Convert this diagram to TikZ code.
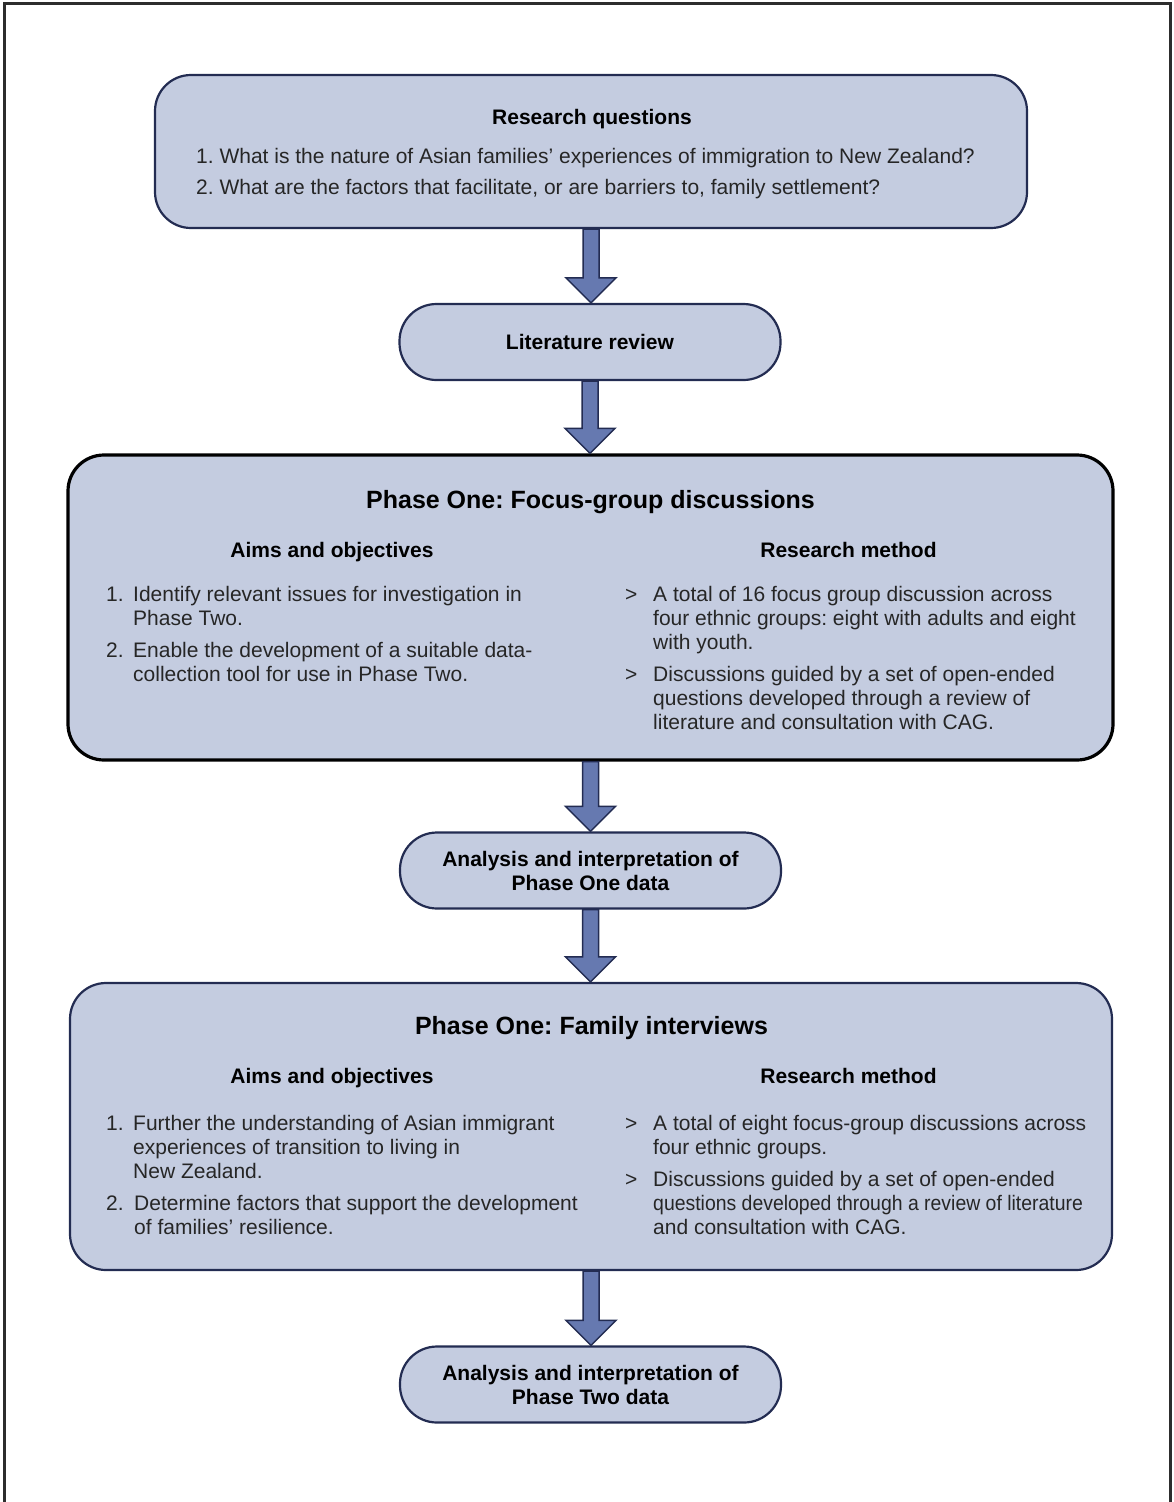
\documentclass[tikz,border=0pt]{standalone}
\usepackage{fontspec}
\setmainfont{Liberation Sans}
\usetikzlibrary{calc}
\frenchspacing
\definecolor{boxfill}{RGB}{196,204,224}
\definecolor{boxline}{RGB}{35,44,82}
\definecolor{arrowfill}{RGB}{102,121,176}
\definecolor{framegray}{RGB}{45,45,45}
\definecolor{bodytext}{RGB}{38,38,38}
\tikzset{
  box/.style={draw=boxline, line width=2.2pt, fill=boxfill, rounded corners=36pt, inner sep=0pt},
  pill/.style={draw=boxline, line width=2.2pt, fill=boxfill, rounded corners=37pt,
    minimum width=381pt, minimum height=76pt, inner sep=0pt, align=center,
    font=\bfseries\fontsize{21}{24}\selectfont},
  heading/.style={anchor=base, inner sep=0pt, font=\bfseries\fontsize{21}{24}\selectfont},
  bigtitle/.style={anchor=base, inner sep=0pt, font=\bfseries\fontsize{25}{30}\selectfont},
  label/.style={anchor=base west, inner sep=0pt, text=bodytext, font=\fontsize{21}{24}\selectfont},
  item/.style={anchor=north west, inner sep=0pt, align=left, text=bodytext, font=\fontsize{21}{24}\selectfont},
  flowarrow/.style={draw=boxline, line width=1.5pt, fill=arrowfill, line join=miter},
}
\newcommand\flowarrow[2]{%
  \filldraw[flowarrow] let \p1=(#1.south), \p2=(#2.north) in
    (\x1-8pt,\y1) -- (\x1-8pt,\y2+25pt) -- (\x1-25pt,\y2+25pt) -- (\x1,\y2)
    -- (\x1+25pt,\y2+25pt) -- (\x1+8pt,\y2+25pt) -- (\x1+8pt,\y1) -- cycle;}
\begin{document}
\begin{tikzpicture}[x=1pt,y=-1pt]
\useasboundingbox (0,0) rectangle (1173,1502);
\draw[framegray, line width=3pt] (4.5,1502) -- (4.5,3.5) -- (1170.5,3.5) -- (1170.5,1502);

% boxes
\node[box, minimum width=872pt, minimum height=153pt] (rq) at (591,151.5) {};
\node[pill] (lit) at (590,342) {Literature review};
\node[box, draw=black, line width=3.2pt, minimum width=1045pt, minimum height=305pt] (p1) at (590.5,607.5) {};
\node[pill] (an1) at (590.5,870.5) {Analysis and interpretation of\\Phase One data};
\node[box, minimum width=1042pt, minimum height=287pt] (p2) at (591,1126.5) {};
\node[pill] (an2) at (590.5,1384.5) {Analysis and interpretation of\\Phase Two data};

% research questions
\node[heading] (rqt) at (592,124) {Research questions};
\node[item, font=\fontsize{21}{31}\selectfont] (rqq) at (196,141.3) {\strut 1. What is the nature of Asian families' experiences of immigration to New Zealand?\\2. What are the factors that facilitate, or are barriers to, family settlement?};

% phase one box
\node[bigtitle] (p1t) at (590.5,508) {Phase One: Focus-group discussions};
\node[heading] (p1ha) at (332,557) {Aims and objectives};
\node[heading] (p1hb) at (848.5,557) {Research method};
\node[label] (p1l1) at (106,601) {1.};
\node[item] (p1a1) at (133,584.2) {\strut Identify relevant issues for investigation in\\Phase Two.};
\node[label] (p1l2) at (106,657) {2.};
\node[item] (p1a2) at (133,640.2) {\strut Enable the development of a suitable data-\\collection tool for use in Phase Two.};
\node[label] (p1m1) at (625,601) {>};
\node[item] (p1b1) at (653,584.2) {\strut A total of 16 focus group discussion across\\four ethnic groups: eight with adults and eight\\with youth.};
\node[label] (p1m2) at (625,681) {>};
\node[item] (p1b2) at (653,664.2) {\strut Discussions guided by a set of open-ended\\questions developed through a review of\\literature and consultation with CAG.};

% phase two box
\node[bigtitle] (p2t) at (591.5,1034) {Phase One: Family interviews};
\node[heading] (p2ha) at (332,1083) {Aims and objectives};
\node[heading] (p2hb) at (848.5,1083) {Research method};
\node[label] (p2l1) at (106,1130) {1.};
\node[item] (p2a1) at (133,1113.2) {\strut Further the understanding of Asian immigrant\\experiences of transition to living in\\New Zealand.};
\node[label] (p2l2) at (106,1210) {2.};
\node[item] (p2a2) at (134,1193.2) {\strut Determine factors that support the development\\of families' resilience.};
\node[label] (p2m1) at (625,1130) {>};
\node[item] (p2b1) at (653,1113.2) {\strut A total of eight focus-group discussions across\\four ethnic groups.};
\node[label] (p2m2) at (625,1186) {>};
\node[item] (p2b2) at (653,1169.2) {\strut Discussions guided by a set of open-ended\\\scalebox{0.925}[1]{questions developed through a review of literature}\\and consultation with CAG.};

% arrows
\flowarrow{rq}{lit}
\flowarrow{lit}{p1}
\flowarrow{p1}{an1}
\flowarrow{an1}{p2}
\flowarrow{p2}{an2}
\end{tikzpicture}
\end{document}
